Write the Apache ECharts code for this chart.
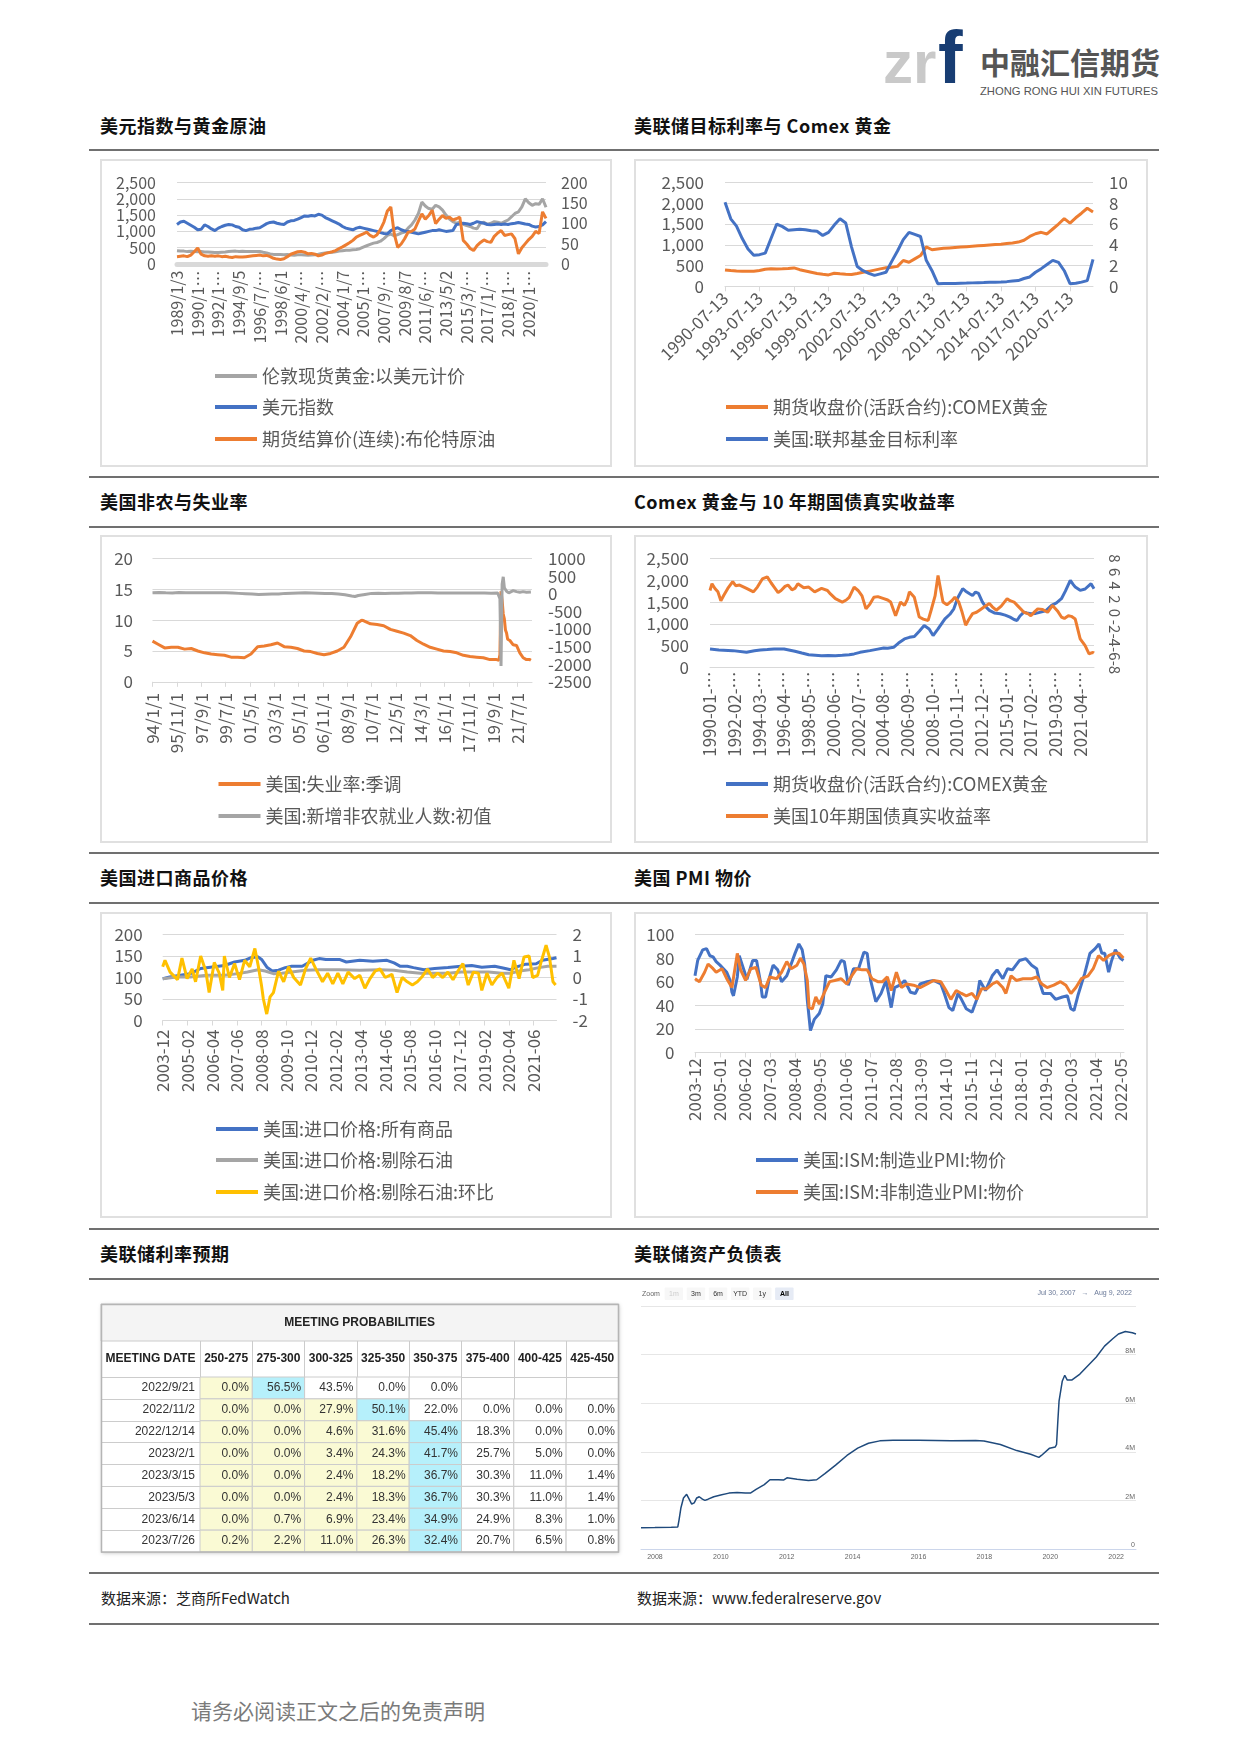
<!DOCTYPE html>
<html><head><meta charset="utf-8">
<script src="https://cdn.jsdelivr.net/npm/echarts@6/dist/echarts.min.js"></script>
<style>
body{margin:0;background:#fff;}
#page{position:relative;width:1241px;height:1755px;overflow:hidden;font-family:"Noto Sans CJK SC","Noto Sans",sans-serif;background:#fff;}
.hl{position:absolute;left:89px;width:1070px;height:2px;background:#707070;}
.ttl{position:absolute;font-size:18px;font-weight:bold;color:#111;line-height:24px;white-space:nowrap;letter-spacing:0.5px;}
.box{position:absolute;border:2px solid #e0e0e0;box-sizing:border-box;}
.ch{position:absolute;}
.src{position:absolute;font-size:15px;color:#222;line-height:18px;white-space:nowrap;}
.foot{position:absolute;left:191px;top:1696px;font-size:21px;color:#7a7a7a;line-height:28px;white-space:nowrap;}
</style></head>
<body><div id="page">
<svg style="position:absolute;left:870px;top:20px" width="320" height="80">
<text x="13" y="63" font-family="Liberation Sans" font-weight="bold" font-size="60" fill="#c9c9c9">zr</text>
<text x="68" y="63" font-family="Liberation Sans" font-weight="bold" font-size="74" fill="#183d73">f</text>
<text x="110" y="54" font-family="Noto Sans CJK SC" font-weight="bold" font-size="30" fill="#555555">中融汇信期货</text>
<text x="110" y="75" font-family="Liberation Sans" font-size="10.5" fill="#555555" textLength="178" lengthAdjust="spacingAndGlyphs">ZHONG RONG HUI XIN FUTURES</text>
</svg>

<div class="ttl" style="left:100px;top:113px">美元指数与黄金原油</div>
<div class="ttl" style="left:634px;top:113px">美联储目标利率与 Comex 黄金</div>
<div class="hl" style="top:149px"></div>
<div class="box" style="left:100px;top:159px;width:512px;height:308px"></div>
<div class="box" style="left:634px;top:159px;width:514px;height:308px"></div>
<div id="c1" class="ch" style="left:100px;top:159px;width:512px;height:308px"></div>
<div id="c2" class="ch" style="left:634px;top:159px;width:514px;height:308px"></div>
<div class="hl" style="top:476px"></div>

<div class="ttl" style="left:100px;top:489px">美国非农与失业率</div>
<div class="ttl" style="left:634px;top:489px">Comex 黄金与 10 年期国债真实收益率</div>
<div class="hl" style="top:526px"></div>
<div class="box" style="left:100px;top:535px;width:512px;height:308px"></div>
<div class="box" style="left:634px;top:535px;width:514px;height:308px"></div>
<div id="c3" class="ch" style="left:100px;top:535px;width:512px;height:308px"></div>
<div id="c4" class="ch" style="left:634px;top:535px;width:514px;height:308px"></div>
<div class="hl" style="top:852px"></div>

<div class="ttl" style="left:100px;top:865px">美国进口商品价格</div>
<div class="ttl" style="left:634px;top:865px">美国 PMI 物价</div>
<div class="hl" style="top:902px"></div>
<div class="box" style="left:100px;top:912px;width:512px;height:306px"></div>
<div class="box" style="left:634px;top:912px;width:514px;height:306px"></div>
<div id="c5" class="ch" style="left:100px;top:912px;width:512px;height:306px"></div>
<div id="c6" class="ch" style="left:634px;top:912px;width:514px;height:306px"></div>
<div class="hl" style="top:1228px"></div>

<div class="ttl" style="left:100px;top:1241px">美联储利率预期</div>
<div class="ttl" style="left:634px;top:1241px">美联储资产负债表</div>
<div class="hl" style="top:1278px"></div>
<div id="c7" class="ch" style="left:97px;top:1300px;width:528px;height:260px"></div>
<div id="c8" class="ch" style="left:634px;top:1282px;width:520px;height:285px"></div>
<div class="hl" style="top:1572px"></div>
<div class="src" style="left:101px;top:1589px">数据来源：芝商所FedWatch</div>
<div class="src" style="left:637px;top:1589px">数据来源：www.federalreserve.gov</div>
<div class="hl" style="top:1623px"></div>
<div class="foot">请务必阅读正文之后的免责声明</div>
</div>

<script>
// ---------------- DATA ----------------
// Chart 1: 美元指数与黄金原油
const names1 = ['伦敦现货黄金:以美元计价','美元指数','期货结算价(连续):布伦特原油'];
const ticks1 = ['1989/1/3','1990/1…','1992/1…','1994/9/5','1996/7/…','1998/6/1','2000/4/…','2002/2/…','2004/1/7','2005/1…','2007/9/…','2009/8/7','2011/6/…','2013/5/2','2015/3/…','2017/1/…','2018/1…','2020/1…'];
const gold1 = [410,400,395,380,390,385,375,380,370,365,
 360,355,350,360,370,385,390,395,385,390,
 385,385,380,380,385,360,340,310,295,295,
 290,285,290,275,270,280,280,275,270,275,
 285,300,320,340,350,360,375,400,410,420,
 425,440,445,470,520,560,600,640,660,700,
 780,880,920,860,900,950,980,1100,1200,1350,
 1550,1900,1780,1700,1680,1800,1750,1650,1500,1380,
 1300,1250,1280,1220,1180,1150,1100,1080,1250,1280,
 1220,1250,1300,1280,1250,1300,1350,1450,1550,1600,
 1750,2000,1880,1800,1850,1830,2000,1740];
const usd1 = [97,103,105,100,95,90,84,85,96,92,
 86,82,88,92,95,97,96,92,90,84,
 82,85,86,88,89,94,99,102,103,100,
 98,97,103,106,107,110,114,118,117,119,
 118,122,120,114,110,106,102,98,92,88,
 86,84,88,90,88,86,84,82,80,77,
 75,74,82,86,89,84,81,80,78,76,
 74,76,78,80,82,82,84,82,80,81,
 82,97,98,100,99,97,100,104,102,100,
 97,96,97,98,97,98,97,99,100,102,
 100,98,97,93,91,92,96,104];
const brent1 = [18,19,20,18,22,30,39,24,20,19,
 20,19,20,18,19,17,16,18,17,17,
 18,19,20,21,22,20,21,18,14,12,
 11,13,18,24,27,30,31,29,25,26,
 24,20,22,26,28,30,33,38,42,47,
 52,58,66,70,74,78,70,66,72,85,
 103,130,140,74,41,49,62,78,80,86,
 105,123,110,119,132,99,110,119,112,115,
 108,111,115,58,49,38,33,45,53,59,
 55,53,68,76,82,70,72,74,62,25,
 40,50,60,68,80,75,128,112];

// Chart 2: 美联储目标利率与 Comex 黄金
const names2 = ['期货收盘价(活跃合约):COMEX黄金','美国:联邦基金目标利率'];
const ticks2 = ['1990-07-13','1993-07-13','1996-07-13','1999-07-13','2002-07-13','2005-07-13','2008-07-13','2011-07-13','2014-07-13','2017-07-13','2020-07-13'];
const gold2 = [395,380,370,363,360,363,380,410,420,415,
 420,430,443,400,370,340,310,290,274,315,
 300,290,282,310,339,360,390,420,445,460,
 480,620,580,660,740,950,880,900,915,925,
 935,945,955,965,975,985,995,1005,1015,1030,
 1045,1065,1110,1200,1266,1300,1260,1380,1500,1630,
 1520,1650,1760,1880,1790];
const fed2 = [8.1,6.5,5.8,4.6,3.6,3.0,3.05,3.2,4.6,6.0,
 5.75,5.4,5.45,5.5,5.45,5.35,5.3,4.9,5.2,5.9,
 6.5,6.1,3.8,1.9,1.5,1.25,1.05,1.2,1.35,2.4,
 3.4,4.5,5.2,5.0,4.8,2.5,1.5,0.25,0.26,0.27,
 0.28,0.3,0.31,0.33,0.35,0.36,0.38,0.4,0.42,0.45,
 0.5,0.55,0.75,0.9,1.35,1.7,2.1,2.5,2.3,1.5,
 0.25,0.3,0.4,0.55,2.6];

// Chart 3: 美国非农与失业率  (x = months since 1994-01)
const names3 = ['美国:失业率:季调','美国:新增非农就业人数:初值'];
const ticks3 = ['94/1/1','95/11/1','97/9/1','99/7/1','01/5/1','03/3/1','05/1/1','06/11/1','08/9/1','10/7/1','12/5/1','14/3/1','16/1/1','17/11/1','19/9/1','21/7/1'];
const unemp3 = [[0,6.6],[5,6.1],[11,5.5],[17,5.6],[23,5.6],[29,5.3],[35,5.4],[41,5.0],[47,4.7],[53,4.5],[59,4.4],[65,4.3],[71,4.0],[77,4.0],[83,3.9],[89,4.5],[95,5.7],[101,5.8],[107,6.0],[113,6.3],[119,5.7],[125,5.6],[131,5.4],[137,5.0],[143,4.9],[149,4.6],[155,4.4],[161,4.6],[167,5.0],[173,5.6],[179,7.3],[185,9.5],[189,10.0],[191,9.9],[197,9.4],[203,9.3],[209,9.1],[215,8.5],[221,8.2],[227,7.9],[233,7.5],[239,6.7],[245,6.1],[251,5.6],[257,5.3],[263,5.0],[269,4.9],[275,4.7],[281,4.3],[287,4.1],[293,4.0],[299,3.9],[305,3.6],[311,3.6],[313,3.5],[314,4.4],[315,14.7],[316,13.2],[317,11.0],[318,10.2],[319,8.4],[320,7.9],[321,6.9],[322,6.7],[323,6.7],[326,6.0],[329,5.9],[332,4.7],[335,3.9],[338,3.6],[341,3.6],[342,3.5]];
const nfp3 = [[0,30],[6,35],[12,25],[18,20],[24,35],[30,25],[36,30],[42,28],[48,25],[54,30],[60,28],[66,25],[72,20],[78,10],[84,0],[90,-10],[96,-25],[102,-15],[108,-5],[114,-10],[120,10],[126,15],[132,20],[138,25],[144,20],[150,15],[156,10],[162,8],[168,-5],[174,-30],[180,-65],[183,-80],[186,-50],[192,-20],[198,10],[204,15],[210,10],[216,15],[222,15],[228,20],[234,20],[240,25],[246,25],[252,25],[258,20],[264,22],[270,18],[276,18],[282,20],[288,18],[294,20],[300,18],[306,15],[312,20],[314,-140],[315,-2050],[316,270],[317,480],[318,170],[319,150],[320,70],[321,60],[322,25],[323,-30],[326,90],[329,60],[332,40],[335,60],[338,40],[342,50]];

// Chart 4: Comex 黄金与10年期国债真实收益率 (x = months since 1990-01)
const names4 = ['期货收盘价(活跃合约):COMEX黄金','美国10年期国债真实收益率'];
const ticks4 = ['1990-01-…','1992-02-…','1994-03-…','1996-04-…','1998-05-…','2000-06-…','2002-07-…','2004-08-…','2006-09-…','2008-10-…','2010-11-…','2012-12-…','2015-01-…','2017-02-…','2019-03-…','2021-04-…'];
const gold4 = [[0,423],[9,400],[23,385],[37,346],[45,380],[51,400],[58,410],[65,423],[75,423],[86,370],[93,330],[100,292],[113,269],[120,275],[127,269],[134,280],[141,292],[146,310],[152,346],[162,385],[170,420],[176,446],[180,440],[186,461],[191,560],[197,654],[202,690],[207,708],[212,830],[217,961],[222,884],[226,731],[231,884],[238,1115],[243,1220],[247,1346],[251,1600],[256,1807],[259,1750],[263,1692],[266,1650],[269,1730],[272,1700],[276,1500],[279,1400],[283,1308],[288,1250],[294,1230],[299,1200],[304,1154],[308,1100],[311,1077],[314,1180],[318,1269],[321,1250],[325,1230],[330,1240],[335,1269],[340,1300],[346,1423],[351,1480],[356,1577],[360,1750],[365,2000],[368,1900],[370,1846],[375,1769],[380,1800],[386,1923],[389,1807]];
const ry4 = [[0,3.3],[2,4.3],[5,3.6],[8,3.1],[11,1.8],[14,2.6],[18,3.6],[23,4.6],[26,4.0],[30,4.1],[37,3.6],[44,3.1],[48,3.8],[53,5.0],[58,5.3],[62,4.4],[65,3.8],[69,3.0],[72,3.3],[76,3.9],[79,4.1],[83,3.4],[86,3.6],[89,4.3],[95,3.7],[100,3.8],[106,3.1],[110,3.4],[113,3.6],[119,3.3],[122,2.8],[127,2.1],[134,1.6],[138,1.9],[141,2.3],[146,3.8],[150,3.3],[154,2.5],[158,0.6],[162,1.3],[166,2.3],[170,2.4],[176,2.1],[180,1.9],[183,1.6],[188,-0.4],[193,1.6],[197,1.1],[200,2.0],[202,3.1],[207,2.3],[212,-0.6],[216,-0.9],[221,-1.1],[224,0.4],[228,2.5],[231,5.5],[236,1.6],[240,1.2],[245,1.8],[248,2.3],[252,1.6],[255,0.3],[259,-1.8],[262,-1.0],[266,-0.1],[270,0.1],[273,0.4],[278,0.9],[283,1.4],[286,0.9],[290,0.4],[295,1.0],[301,2.1],[304,1.8],[308,1.6],[312,1.0],[318,0.1],[322,-0.1],[325,-0.4],[329,0.2],[332,0.6],[337,0.5],[342,0.1],[347,1.1],[352,0.3],[356,-0.6],[359,-0.8],[363,-0.4],[366,-0.5],[370,-0.9],[375,-3.8],[380,-4.8],[384,-6.0],[388,-5.8],[389,-5.9]];

// Chart 5: 美国进口商品价格 (x = months since 2003-12)
const names5 = ['美国:进口价格:所有商品','美国:进口价格:剔除石油','美国:进口价格:剔除石油:环比'];
const ticks5 = ['2003-12','2005-02','2006-04','2007-06','2008-08','2009-10','2010-12','2012-02','2013-04','2014-06','2015-08','2016-10','2017-12','2019-02','2020-04','2021-06'];
const all5 = [[0,97],[4,101],[10,105],[15.7,109],[21.5,121],[27,124],[35,128],[40.7,136],[46.4,140],[50,146],[54,148],[56,142],[59,124],[62,115],[65.6,117],[69.4,123],[73,126],[79,126],[85,140],[88.6,144],[92.4,142],[100,142],[104,136],[111.6,140],[119,138],[127,140],[131,134],[134.6,126],[138.5,126],[142,123],[148,118],[154,121],[161.5,123],[169,126],[175,128],[180.7,124],[188,126],[194,121],[197,118],[200,124],[205.6,131],[211.5,132],[215,140],[221,144],[223,146]];
const exoil5 = [[0,97],[8,101],[15.7,101],[25,105],[35,105],[42.6,109],[48,113],[54,118],[58,115],[62.7,109],[67.5,110],[73,113],[81,117],[88.6,118],[100,118],[111.6,117],[123,118],[131,117],[138.5,113],[146,110],[154,110],[161.5,110],[169,113],[177,113],[184.5,113],[192,110],[197,110],[202,115],[207.5,118],[213,123],[218,126],[223,126]];
const mom5 = [[0,0.5],[1.3,0.8],[4.2,0.25],[8.4,-0.1],[10.9,0.9],[13.8,-0.05],[16.7,0.4],[18.6,-0.2],[21.5,1.0],[24.4,0.3],[26.3,-0.7],[29.2,0.7],[32,0.2],[34,-0.6],[34.9,1.0],[37.8,0],[40.7,0.65],[43.5,-0.1],[46.4,0.8],[49.3,0.5],[52.2,1.35],[54.1,0.55],[56,-0.4],[57,-1.0],[58.9,-1.7],[60.8,-0.9],[62.7,-0.7],[65.6,0.3],[68.5,-0.2],[71.3,0.5],[74.2,0],[78,-0.35],[80.9,0.4],[83.8,0.9],[86.7,0.4],[90.5,-0.2],[93.4,0.2],[96.3,-0.3],[99.2,0.2],[102,-0.3],[105,0.25],[108.7,-0.05],[111.6,0.1],[114.5,-0.5],[117.4,-0.05],[120.3,0.3],[123,0.4],[126,0],[129.8,0.15],[132.7,-0.7],[135.6,0],[138.5,-0.2],[141.4,-0.35],[144.2,-0.2],[147,0.05],[150,0.4],[152.9,0],[155.7,0.2],[158.6,0],[161.5,0.25],[164.4,-0.1],[167.2,0.3],[170,0.65],[173,-0.35],[175.9,0.25],[178.8,0.2],[180.7,-0.6],[183.6,0.2],[186.4,-0.35],[189.3,0],[192.2,0.2],[196,-0.5],[198.9,0.8],[201.8,-0.05],[204.6,0.95],[207.5,1.0],[209.5,0],[212.3,0.1],[214.2,0.7],[217.1,1.5],[219,0.95],[221,-0.2],[222.5,-0.35]];

// Chart 6: 美国 PMI 物价 (x = months since 2003-12)
const names6 = ['美国:ISM:制造业PMI:物价','美国:ISM:非制造业PMI:物价'];
const ticks6 = ['2003-12','2005-01','2006-02','2007-03','2008-04','2009-05','2010-06','2011-07','2012-08','2013-09','2014-10','2015-11','2016-12','2018-01','2019-02','2020-03','2021-04','2022-05'];
const mfg6 = [[0,65],[1.4,78],[4,87],[6,88],[7.7,82],[9.4,81],[11,77],[13,74],[14.8,71],[16.5,68],[18.3,61],[19.2,51],[20,48],[22,64],[23,82],[24.6,74],[27,62],[30,78],[32,78],[34,60],[35,47],[36.7,47],[38.8,64],[40.6,74],[43,70],[45,60],[47.7,65],[50,75],[52,84],[54,92],[55.7,87],[57,75],[58.4,44],[60,18.5],[62,28],[64.6,33],[66.4,41],[68,65],[70.8,64],[73.5,70],[76,78],[77.6,77],[79.7,57],[82.4,71],[85,71],[87.8,85],[89.5,84],[91.3,61],[94,43],[96.7,50],[99.3,61],[102,38],[103.8,55],[106.4,57],[109,61],[112,51],[114.5,50],[117,58],[120.7,60],[124,61],[127.8,58],[129.6,50],[132,38],[134,35.5],[136.7,50],[138.5,45],[141,37],[144,34],[146.5,45],[148,61],[151,52.5],[154.5,65],[157,70],[160,62.5],[162.5,71],[165,70],[168.7,78],[172,79.5],[175,74],[177.6,71],[179.4,58],[181,50],[184.8,50],[187.4,45],[191,47],[193.6,48],[195.4,37],[197,35.5],[199,48],[202.6,67],[205.3,84],[208,88],[210,92],[211.5,84],[213,84],[215,68],[216.4,77],[218.5,87],[221,80],[222.7,78]];
const svc6 = [[0,62.5],[2.3,60],[5,68],[6.8,75],[9.4,71],[11,68],[14,71],[16.5,62.5],[19.2,55],[22,84],[23.7,70],[26.3,61],[29,71],[31.7,72],[34.4,57],[36.7,55],[38.8,64],[42.4,62.5],[45,68],[47.7,77],[50,71],[53,74],[54.8,80],[56.6,75],[58.4,61],[59.3,38],[61,37],[62.8,47],[64.6,41],[67.3,51],[70,60],[72.6,61],[76,62.5],[78.9,58],[81.5,65],[84,71],[86.9,70],[89.5,70],[92,62.5],[95,60],[97.5,60],[100,64],[102,52.5],[104.7,68],[107.3,55],[110,58],[113.6,57],[117,55],[120.7,58],[124,61],[127.8,60],[130.5,52.5],[133,45],[135.8,52.5],[138.5,50],[141,48],[144,50],[146.5,45],[149,54],[151.8,54],[154.5,58],[157,60],[160,55],[161.6,50],[164.3,65],[167,61],[170.5,62.5],[175,62.5],[177.6,64],[180.3,58],[183,55],[186.5,57],[190,60],[192.8,57],[195.4,50],[198,55],[200.8,62.5],[204.3,65],[207,71],[209.7,82],[212.4,78],[215,82],[217.7,84],[220.4,84],[222.7,80]];

// Table: 美联储利率预期
const meetDates = ['2022/9/21','2022/11/2','2022/12/14','2023/2/1','2023/3/15','2023/5/3','2023/6/14','2023/7/26'];
const rateRanges = ['250-275','275-300','300-325','325-350','350-375','375-400','400-425','425-450'];
const prob0 = [0.0,56.5,43.5,0.0,0.0,null,null,null];
const prob1 = [0.0,0.0,27.9,50.1,22.0,0.0,0.0,0.0];
const prob2 = [0.0,0.0,4.6,31.6,45.4,18.3,0.0,0.0];
const prob3 = [0.0,0.0,3.4,24.3,41.7,25.7,5.0,0.0];
const prob4 = [0.0,0.0,2.4,18.2,36.7,30.3,11.0,1.4];
const prob5 = [0.0,0.0,2.4,18.3,36.7,30.3,11.0,1.4];
const prob6 = [0.0,0.7,6.9,23.4,34.9,24.9,8.3,1.0];
const prob7 = [0.2,2.2,11.0,26.3,32.4,20.7,6.5,0.8];

// Fed balance sheet (USD millions)
const fedBS = [['2007-07-30',0.87e6],['2007-12-31',0.88e6],['2008-06-30',0.9e6],['2008-09-10',0.91e6],['2008-09-24',1.2e6],['2008-10-15',1.7e6],['2008-11-12',2.1e6],['2008-12-17',2.25e6],['2009-01-14',2.05e6],['2009-02-11',1.85e6],['2009-03-11',1.9e6],['2009-04-08',2.1e6],['2009-05-06',2.15e6],['2009-06-10',2.05e6],['2009-07-08',2.0e6],['2009-08-12',2.05e6],['2009-10-14',2.15e6],['2009-12-30',2.22e6],['2010-03-31',2.3e6],['2010-06-30',2.33e6],['2010-09-29',2.3e6],['2010-11-24',2.3e6],['2011-01-26',2.45e6],['2011-04-27',2.65e6],['2011-06-29',2.85e6],['2011-09-28',2.85e6],['2011-11-30',2.84e6],['2012-01-04',2.93e6],['2012-04-25',2.87e6],['2012-08-29',2.82e6],['2012-11-28',2.85e6],['2013-02-27',3.1e6],['2013-06-26',3.45e6],['2013-10-30',3.85e6],['2014-02-26',4.15e6],['2014-06-25',4.35e6],['2014-10-29',4.45e6],['2015-03-25',4.48e6],['2016-01-06',4.48e6],['2016-12-28',4.45e6],['2017-09-27',4.46e6],['2017-12-27',4.44e6],['2018-06-27',4.3e6],['2018-12-26',4.05e6],['2019-05-29',3.9e6],['2019-08-28',3.77e6],['2019-09-25',3.85e6],['2019-12-25',4.15e6],['2020-02-26',4.2e6],['2020-03-11',4.3e6],['2020-03-25',5.25e6],['2020-04-08',6.1e6],['2020-05-13',6.9e6],['2020-06-10',7.15e6],['2020-07-08',6.95e6],['2020-08-26',6.95e6],['2020-11-25',7.2e6],['2021-02-24',7.55e6],['2021-05-26',7.9e6],['2021-08-25',8.35e6],['2021-11-24',8.65e6],['2022-01-26',8.85e6],['2022-04-13',8.95e6],['2022-06-29',8.9e6],['2022-08-09',8.85e6]];
const fedTickYears = [2008,2010,2012,2014,2016,2018,2020,2022];
const zoomBtns = ['1m','3m','6m','YTD','1y','All'];

// ---------------- RENDER ----------------
const FONT = '"Noto Sans CJK SC","Noto Sans",sans-serif';
const AX = '#595959';
const GC = '#d9d9d9';
const C_BLUE='#4472c4', C_ORANGE='#ed7d31', C_GRAY='#a5a5a5', C_YEL='#ffc000';

function leg(name, left, center, size){
  return {data:[name], left:left, top:center-size/2, orient:'horizontal', icon:'rect', itemWidth:42, itemHeight:4,
    padding:0, itemGap:0, selectedMode:false, textStyle:{fontSize:size, color:AX, fontFamily:FONT, lineHeight:size}};
}
function line(name, data, color, yi){
  return {name:name, type:'line', data:data, yAxisIndex:yi||0, showSymbol:false, symbol:'none', smooth:false,
    lineStyle:{width:3, color:color}, itemStyle:{color:color}, z:2};
}
function valY(min,max,intv,size,margin,pos,fmt,grid){
  return {type:'value', min:min, max:max, interval:intv, position:pos,
    axisLine:{show:false}, axisTick:{show:false},
    axisLabel:{fontSize:size, color:AX, margin:margin, formatter:fmt, showMinLabel:true, showMaxLabel:true},
    splitLine:{show:!!grid, lineStyle:{color:GC, width:1}}};
}
const comma = v => v.toLocaleString('en-US');
const plain = v => String(v);
function mk(id, opt){ const c = echarts.init(document.getElementById(id)); opt.animation=false; opt.textStyle={fontFamily:FONT}; c.setOption(opt); return c; }

// Chart 1
const cats1 = gold1.map((_,i)=>i);
mk('c1', {
  grid:{left:77, top:23.5, width:369, height:81.5},
  legend:[leg(names1[0],115,217,18), leg(names1[1],115,248,18), leg(names1[2],115,280,18)],
  xAxis:{type:'category', data:cats1, boundaryGap:false, offset:2.5,
    axisLine:{lineStyle:{color:'#d9d9d9', width:5}}, axisTick:{show:false},
    axisLabel:{interval:5, rotate:90, margin:4, fontSize:16, color:AX, formatter:(v,i)=> (i%6===0 && ticks1[i/6]) ? ticks1[i/6] : ''}},
  yAxis:[valY(0,2500,500,16,21,'left',comma,true), valY(0,200,50,16,15,'right',plain,false)],
  series:[line(names1[0],gold1,C_GRAY,0), line(names1[1],usd1,C_BLUE,1), line(names1[2],brent1,C_ORANGE,1)]
});

// Chart 2
const cats2 = gold2.map((_,i)=>i);
mk('c2', {
  grid:{left:91, top:23.5, width:368, height:103.8},
  legend:[leg(names2[0],92,248,18), leg(names2[1],92,280,18)],
  xAxis:{type:'category', data:cats2, boundaryGap:false,
    axisLine:{lineStyle:{color:'#d9d9d9', width:1}}, axisTick:{show:true, interval:5, length:5, lineStyle:{color:'#d9d9d9'}},
    axisLabel:{interval:5, rotate:45, margin:9, fontSize:17, color:AX, formatter:(v,i)=> (i%6===0 && ticks2[i/6]) ? ticks2[i/6] : ''}},
  yAxis:[valY(0,2500,500,17,21,'left',comma,true), valY(0,10,2,17,16,'right',plain,false)],
  series:[line(names2[0],gold2,C_ORANGE,0), line(names2[1],fed2,C_BLUE,1)]
});

function monthAxis(max, step, ticks, margin, size, showTick){
  const pos = ticks.map((_,i)=>i*step);
  return {type:'value', min:0, max:max, interval:step,
    axisLine:{show:true, onZero:false, lineStyle:{color:'#d9d9d9', width:1}},
    axisTick:{show:showTick, length:5, lineStyle:{color:'#d9d9d9'}, customValues:pos},
    axisLabel:{rotate:90, margin:margin, fontSize:size, color:AX, customValues:pos,
      formatter: v => { const k = v/step; return (Number.isInteger(k) && ticks[k]) ? ticks[k] : ''; }},
    splitLine:{show:false}};
}

// Chart 3
mk('c3', {
  grid:{left:52.5, top:23.5, width:379.5, height:123.3},
  legend:[leg(names3[0],118.5,249,18), leg(names3[1],118.5,281,18)],
  xAxis: monthAxis(343,22,ticks3,11,17,true),
  yAxis:[valY(0,20,5,17,19.5,'left',plain,true), valY(-2500,1000,500,17,16,'right',plain,false)],
  series:[line(names3[0],unemp3,C_ORANGE,0), line(names3[1],nfp3,C_GRAY,1)]
});

// Chart 4
const y4r = valY(-8,8,2,15,13,'right',plain,false); y4r.axisLabel.rotate = -90; y4r.axisLabel.hideOverlap = false;
mk('c4', {
  grid:{left:76, top:23.5, width:384, height:108.9},
  legend:[leg(names4[0],92,249,18), leg(names4[1],92,281,18)],
  xAxis: monthAxis(389,25,ticks4,4,17,false),
  yAxis:[valY(0,2500,500,17,21,'left',comma,true), y4r],
  series:[line(names4[0],gold4,C_BLUE,0), line(names4[1],ry4,C_ORANGE,1)]
});

// Chart 5
mk('c5', {
  grid:{left:62.7, top:22.5, width:393.8, height:86},
  legend:[leg(names5[0],116,217,18), leg(names5[1],116,248,18), leg(names5[2],116,280,18)],
  xAxis: monthAxis(223,14,ticks5,9,17,true),
  yAxis:[valY(0,200,50,17,20,'left',plain,true), valY(-2,2,1,17,16,'right',plain,false)],
  series:[line(names5[0],all5,C_BLUE,0), line(names5[1],exoil5,C_GRAY,0), line(names5[2],mom5,C_YEL,1)]
});

// Chart 6
mk('c6', {
  grid:{left:61, top:22.5, width:429, height:117.9},
  legend:[leg(names6[0],122,248,18), leg(names6[1],122,280,18)],
  xAxis: monthAxis(223,13,ticks6,6,17,true),
  yAxis:[valY(0,100,20,17,20.5,'left',plain,true)],
  series:[line(names6[0],mfg6,C_BLUE,0), line(names6[1],svc6,C_ORANGE,0)]
});

// Chart 7: table
const probRows = [prob0,prob1,prob2,prob3,prob4,prob5,prob6,prob7];
const cellData = [];
probRows.forEach((row, r) => {
  let best = 0;
  row.forEach((v,c)=>{ if (v!=null && v>row[best]) best = c; });
  row.forEach((v,c)=>{ if (v==null) return; cellData.push([c, r, v, c<best?1:(c===best?2:0)]); });
});
const TB = '#cccccc';
const OX = 4, OY = 4;
const TF = '"Liberation Sans",Arial,sans-serif';
mk('c7', {
  grid:{left:OX+99, top:OY+73, width:418.4, height:175},
  xAxis:{type:'category', data:rateRanges, position:'top',
    axisLine:{show:true, lineStyle:{color:TB}},
    axisTick:{show:true, length:36, interval:0, lineStyle:{color:TB}},
    axisLabel:{interval:0, margin:12, fontSize:12, fontWeight:'bold', color:'#222', fontFamily:TF},
    splitLine:{show:true, interval:0, lineStyle:{color:TB}}},
  yAxis:{type:'category', data:meetDates, inverse:true,
    axisLine:{show:true, lineStyle:{color:TB}},
    axisTick:{show:true, length:99, interval:0, lineStyle:{color:TB}},
    axisLabel:{interval:0, margin:5, fontSize:12, color:'#333', fontFamily:TF},
    splitLine:{show:true, interval:0, lineStyle:{color:TB}}},
  graphic:[
    {type:'rect', z:-1, shape:{x:OX, y:OY, width:517.4, height:248}, style:{fill:'#fff', shadowBlur:4, shadowColor:'rgba(0,0,0,0.25)', shadowOffsetX:1, shadowOffsetY:1}},
    {type:'rect', shape:{x:OX, y:OY, width:517.4, height:37}, style:{fill:'#f4f4f4', stroke:TB, lineWidth:1}},
    {type:'text', x:OX+258.7, y:OY+18.5, style:{text:'MEETING PROBABILITIES', font:'bold 12px '+TF, fill:'#222', textAlign:'center', textVerticalAlign:'middle'}},
    {type:'text', x:OX+49.5, y:OY+55, style:{text:'MEETING DATE', font:'bold 12px '+TF, fill:'#222', textAlign:'center', textVerticalAlign:'middle'}},
    {type:'rect', z:100, shape:{x:OX+0.5, y:OY+0.5, width:517, height:247.5}, style:{fill:'none', stroke:'#b5b5b5', lineWidth:1.5}}
  ],
  series:[{type:'custom', data:cellData, encode:{x:0, y:1}, z:3,
    renderItem:(params, api) => {
      const c = api.value(0), r = api.value(1), v = api.value(2), k = api.value(3);
      const p = api.coord([c, r]); const s = api.size([1, 1]);
      return {type:'rect', shape:{x:p[0]-s[0]/2, y:p[1]-s[1]/2, width:s[0], height:s[1]},
        style:{fill:['#ffffff','#fafad4','#b6f0fb'][k], stroke:TB, lineWidth:1},
        textContent:{style:{text:v.toFixed(1)+'%', fill:'#333', fontSize:12, fontFamily:TF}},
        textConfig:{position:'insideRight', distance:4}};
    }}]
});

// Chart 8: Fed balance sheet (x = timestamp on a value axis)
const toTs = s => { const p = s.split('-').map(Number); return new Date(p[0], p[1]-1, p[2]).getTime(); };
const fedData = fedBS.map(d => [toTs(d[0]), d[1]]);
const btnGraphics = [];
zoomBtns.forEach((b,i)=>{
  const x = 30.6 + i*22.1;
  btnGraphics.push({type:'rect', shape:{x:x, y:5.5, width:18.5, height:12.5, r:1}, style:{fill: i===5?'#e6ebf5':'#f7f7f7'}});
  btnGraphics.push({type:'text', x:x+9.25, y:11.75, style:{text:b, font:(i===5?'bold ':'')+'7px '+TF, fill: i===0?'#cccccc':(i===5?'#000':'#333'), textAlign:'center', textVerticalAlign:'middle'}});
});
mk('c8', {
  grid:{left:7, top:24, width:495, height:243},
  xAxis:{type:'value', min:fedData[0][0], max:fedData[fedData.length-1][0],
    axisLine:{show:true, onZero:false, lineStyle:{color:'#ccd6eb'}}, axisTick:{show:false},
    axisLabel:{fontSize:7, color:'#666', margin:5, fontFamily:TF,
      customValues: fedTickYears.map(y=>new Date(y,0,1).getTime()),
      formatter: v => String(new Date(v).getFullYear())},
    splitLine:{show:false}},
  yAxis:{type:'value', position:'right', min:0, max:10e6, interval:2e6,
    axisLine:{show:false}, axisTick:{show:false},
    axisLabel:{inside:true, margin:1, fontSize:7, color:'#666', verticalAlign:'bottom', showMaxLabel:false, fontFamily:TF,
      formatter: v => v===0 ? '0' : (v/1e6)+'M'},
    splitLine:{show:true, lineStyle:{color:'#e6e6e6'}}},
  graphic:[
    {type:'text', x:8, y:11.75, style:{text:'Zoom', font:'7px '+TF, fill:'#666', textVerticalAlign:'middle'}},
    ...btnGraphics,
    {type:'text', x:498, y:11.5, style:{text:'Jul 30, 2007   →   Aug 9, 2022', font:'7px '+TF, fill:'#6b7a99', textAlign:'right', textVerticalAlign:'middle'}}
  ],
  series:[{type:'line', data:fedData, showSymbol:false, symbol:'none', lineStyle:{width:1.5, color:'#1f4a7c'}, itemStyle:{color:'#1f4a7c'}}]
});
</script>
</body></html>
